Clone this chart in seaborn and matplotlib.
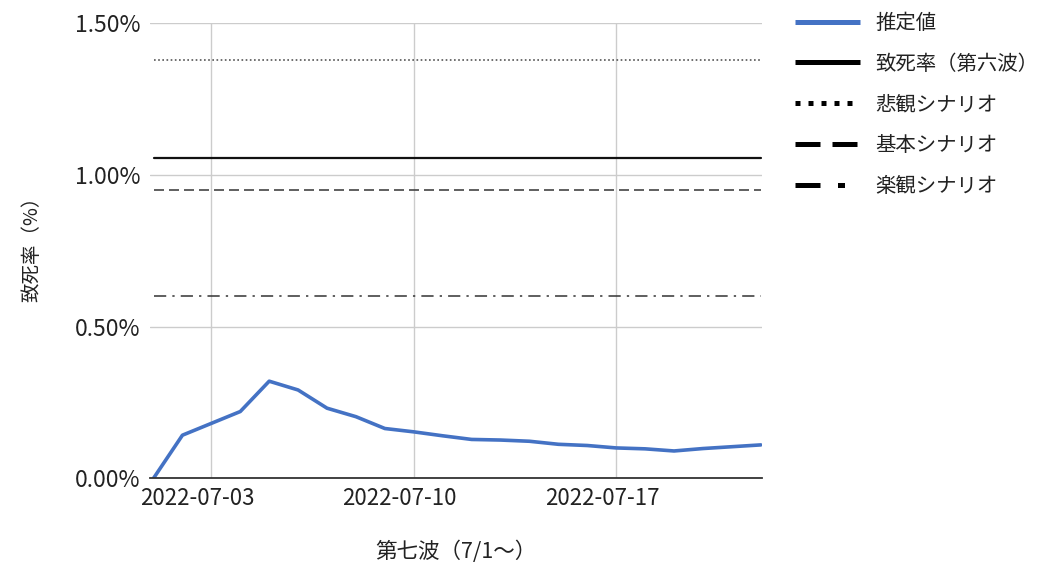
import matplotlib
matplotlib.use("Agg")
import matplotlib.pyplot as plt
import matplotlib.dates as mdates
import matplotlib.transforms as mtrans
from matplotlib.lines import Line2D
from matplotlib.ticker import FuncFormatter
import numpy as np
import pandas as pd
import seaborn as sns

# 第七波の推定致死率（%）
dates = pd.date_range("2022-07-01", "2022-07-22", freq="D")
estimate = [0.000, 0.142, 0.181, 0.220, 0.320, 0.291, 0.231, 0.203, 0.164, 0.153, 0.140,
            0.128, 0.126, 0.122, 0.112, 0.108, 0.100, 0.097, 0.090, 0.098, 0.104, 0.110]

# 参照ライン（%）
rate_6th = 1.056
pessimistic = 1.38
base = 0.95
optimistic = 0.60

series_names = ["推定値", "致死率（第六波）", "悲観シナリオ", "基本シナリオ", "楽観シナリオ"]

sns.set_style("white")
plt.rcParams["font.family"] = ["Noto Sans CJK JP", "DejaVu Sans"]

fig = plt.figure(figsize=(10.41, 5.66), dpi=100)
ax = fig.add_axes([0.144, 0.155, 0.588, 0.804])

df = pd.DataFrame({"date": dates, "value": estimate})
n = len(dates)

# 参照ライン
sns.lineplot(x=dates, y=np.full(n, pessimistic), ax=ax, color="#555555", lw=1.2,
             linestyle=(0, (1, 1.5)))
sns.lineplot(x=dates, y=np.full(n, rate_6th), ax=ax, color="#111111", lw=1.6)
sns.lineplot(x=dates, y=np.full(n, base), ax=ax, color="#444444", lw=1.2,
             linestyle=(0, (6, 3)))
sns.lineplot(x=dates, y=np.full(n, optimistic), ax=ax, color="#333333", lw=1.1,
             linestyle=(0, (8, 4, 1.5, 4)))
# 推定値
sns.lineplot(data=df, x="date", y="value", ax=ax, color="#4472c4", lw=2.6,
             solid_capstyle="round", solid_joinstyle="round")

ax.set_xlim(dates[0] - pd.Timedelta(hours=3), dates[-1] + pd.Timedelta(hours=1))
ax.set_ylim(0, 1.5)
ax.set_yticks([0, 0.5, 1.0, 1.5])
ax.yaxis.set_major_formatter(FuncFormatter(lambda v, p: f"{v:.2f}%"))
ax.set_xticks(pd.to_datetime(["2022-07-03", "2022-07-10", "2022-07-17"]))
ax.xaxis.set_major_formatter(mdates.DateFormatter("%Y-%m-%d"))

ax.grid(True, color="#cccccc", lw=1.0)
ax.set_axisbelow(True)
for s in ["top", "right", "left"]:
    ax.spines[s].set_visible(False)
ax.spines["bottom"].set_color("#333333")
ax.spines["bottom"].set_linewidth(1.3)
ax.tick_params(axis="y", length=0, labelsize=16.5, colors="#222222", pad=7)
ax.tick_params(axis="x", length=0, labelsize=16, colors="#222222", pad=6)

# 日付ラベルは少し左寄せ
offset = mtrans.ScaledTranslation(-14 / 100, 0, fig.dpi_scale_trans)
for lab in ax.get_xticklabels():
    lab.set_transform(lab.get_transform() + offset)

ax.set_xlabel("第七波（7/1〜）", fontsize=15.5, color="#222222", labelpad=22)
ax.set_ylabel("致死率（%）", fontsize=14, color="#222222")
ax.yaxis.set_label_coords(-0.175, 0.515)

handles = [
    Line2D([], [], color="#4472c4", lw=3.6, solid_capstyle="butt"),
    Line2D([], [], color="#000000", lw=3.6, solid_capstyle="butt"),
    Line2D([], [], color="#000000", lw=3.6, linestyle=(0, (1, 1.6)), dash_capstyle="butt"),
    Line2D([], [], color="#000000", lw=3.6, linestyle=(0, (5, 2.4)), dash_capstyle="butt"),
    Line2D([], [], color="#000000", lw=3.6, linestyle=(0, (5, 3.5, 1.4, 20)), dash_capstyle="butt"),
]
fig.legend(handles, series_names, loc="upper left", bbox_to_anchor=(0.746, 1.01),
           frameon=False, fontsize=14.7, handlelength=3.2, handletextpad=0.73,
           labelspacing=0.97, labelcolor="#222222")

fig.savefig("out.png", dpi=100)
